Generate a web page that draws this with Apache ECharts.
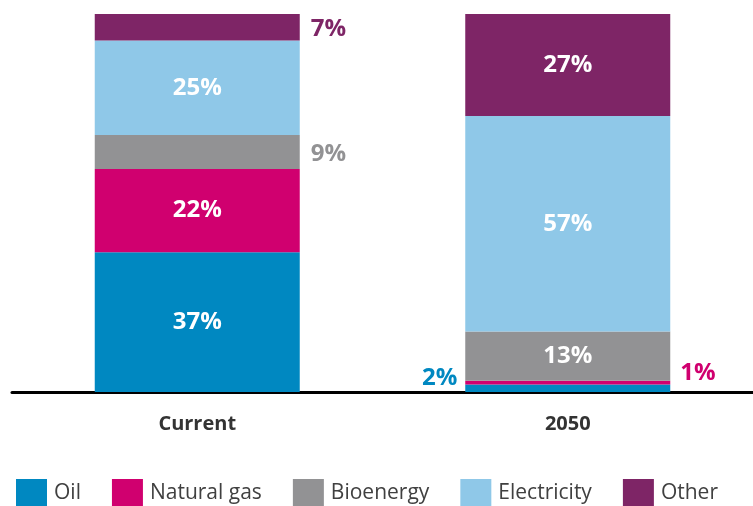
<!DOCTYPE html>
<html>
<head>
<meta charset="utf-8">
<script src="https://cdn.jsdelivr.net/npm/echarts@6/dist/echarts.min.js"></script>
<style>
  html, body { margin: 0; padding: 0; background: #fff; }
  #chart { width: 753px; height: 506px; }
</style>
</head>
<body>
<div id="chart"></div>
<script>
// Share of final energy use by carrier (%)
const categories = ['Current', '2050'];
const oil = [37, 2];
const naturalGas = [22, 1];
const bioenergy = [9, 13];
const electricity = [25, 57];
const other = [7, 27];

const colors = {
  oil: '#0088c1',
  gas: '#d0006f',
  bio: '#929294',
  elec: '#8fc8e8',
  other: '#7e2566'
};

const FONT = '"Open Sans", Lato, sans-serif';

function insideLabel() {
  return {
    show: true,
    position: 'inside',
    color: '#fff',
    fontFamily: FONT,
    fontWeight: 'bold',
    fontSize: 24,
    formatter: p => p.value + '%'
  };
}

function outsideLabel(color, pos, distance, offset) {
  return {
    show: true,
    position: pos,
    distance: distance,
    offset: offset || [0, 0],
    color: color,
    fontFamily: FONT,
    fontWeight: 'bold',
    fontSize: 24,
    formatter: p => p.value + '%'
  };
}

// Small segments get their value printed beside the bar in the segment colour
function seriesData(values, outside) {
  return values.map((v, i) => {
    const item = { value: v };
    if (outside[i]) item.label = outside[i];
    return item;
  });
}

const series = [
  {
    name: 'Oil', color: colors.oil,
    data: seriesData(oil, [null, outsideLabel(colors.oil, 'left', 8, [0, -10])])
  },
  {
    name: 'Natural gas', color: colors.gas,
    data: seriesData(naturalGas, [null, outsideLabel(colors.gas, 'right', 10, [0, -9])])
  },
  {
    name: 'Bioenergy', color: colors.bio,
    data: seriesData(bioenergy, [outsideLabel(colors.bio, 'right', 11, [0, 2]), null])
  },
  {
    name: 'Electricity', color: colors.elec,
    data: seriesData(electricity, [null, null])
  },
  {
    name: 'Other', color: colors.other,
    data: seriesData(other, [outsideLabel(colors.other, 'right', 11, [0, 2]), null])
  }
].map(s => ({
  type: 'bar',
  stack: 'total',
  name: s.name,
  barWidth: 205,
  itemStyle: { color: s.color },
  label: insideLabel(),
  data: s.data
}));

const chart = echarts.init(document.getElementById('chart'));
chart.setOption({
  animation: false,
  grid: { left: 12, right: 0, top: 14, bottom: 114, containLabel: false },
  legend: {
    left: 11,
    top: 474,
    itemWidth: 31,
    itemHeight: 28,
    itemGap: 31,
    icon: 'rect',
    textStyle: { fontFamily: FONT, fontSize: 21, color: '#404040', padding: [0, 0, 0, 2] },
    data: series.map(s => s.name)
  },
  xAxis: {
    type: 'category',
    data: categories,
    axisLine: { lineStyle: { color: '#000', width: 3 } },
    axisTick: { show: false },
    axisLabel: {
      fontFamily: FONT, fontWeight: 'bold', fontSize: 20, color: '#333', margin: 22
    }
  },
  yAxis: {
    type: 'value',
    min: 0,
    max: 100,
    show: false
  },
  series: series
});
</script>
</body>
</html>
